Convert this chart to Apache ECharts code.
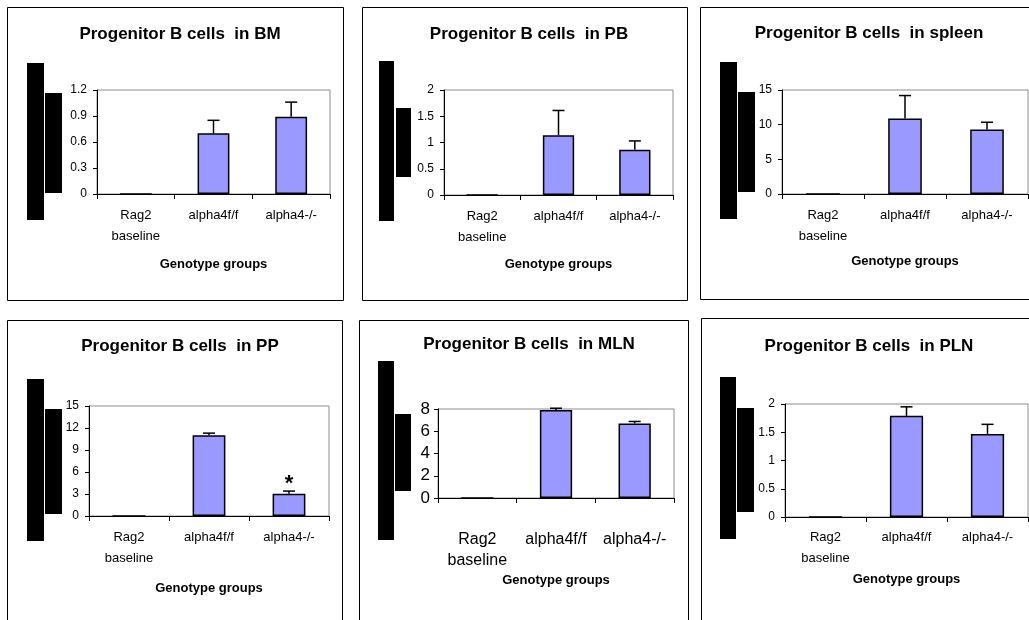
<!DOCTYPE html>
<html><head><meta charset="utf-8">
<script src="https://cdn.jsdelivr.net/npm/echarts@6/dist/echarts.min.js"></script>
<style>html,body{margin:0;padding:0;background:#fff}#c{width:1029px;height:620px}</style>
</head><body><div id="c"></div>
<script>
// ---------- data ----------
const categories = ['Rag2\nbaseline', 'alpha4f/f', 'alpha4-/-'];
const panelTitles = [
  'Progenitor B cells  in BM',
  'Progenitor B cells  in PB',
  'Progenitor B cells  in spleen',
  'Progenitor B cells  in PP',
  'Progenitor B cells  in MLN',
  'Progenitor B cells  in PLN'
];
const xAxisTitle = 'Genotype groups';

const bmMean = [0, 0.70, 0.89];
const bmErr = [0, 0.15, 0.17];
const pbMean = [0, 1.14, 0.86];
const pbErr = [0, 0.47, 0.17];
const spleenMean = [0, 10.9, 9.3];
const spleenErr = [0, 3.3, 1.05];
const ppMean = [0, 11.0, 3.05];
const ppErr = [0, 0.3, 0.35];
const mlnMean = [0, 7.9, 6.7];
const mlnErr = [0, 0.17, 0.18];
const plnMean = [0, 1.79, 1.47];
const plnErr = [0, 0.16, 0.17];

const ppMarks = ['', '', '*'];
const noMarks = ['', '', ''];

const yMax = [1.2, 2, 15, 15, 8, 2];
const yInterval = [0.3, 0.5, 5, 3, 2, 0.5];

const means = [bmMean, pbMean, spleenMean, ppMean, mlnMean, plnMean];
const errs = [bmErr, pbErr, spleenErr, ppErr, mlnErr, plnErr];
const marks = [noMarks, noMarks, noMarks, ppMarks, noMarks, noMarks];

// ---------- layout ----------
const layout = [
  {box:[7,7,336,293], grid:[97,90,233,104], titleY:21, cx:175, bars:[[27,63,17,157],[45,93,17,100]], catFont:13, yFont:12, catMargin:11, catLH:21, nameGap:64},
  {box:[362,7,325,293], grid:[444,90,229,105], titleY:21, cx:524, bars:[[379,61,15,160],[396,108,15,69]], catFont:13, yFont:12, catMargin:11, catLH:21, nameGap:63},
  {box:[700,7,340,292], grid:[782,90,246,104], titleY:20, cx:864, bars:[[720,62,17,157],[738,92,17,100]], catFont:13, yFont:12, catMargin:11, catLH:21, nameGap:61},
  {box:[7,320,335,310], grid:[89,406,240,110], titleY:333, cx:175, bars:[[27,379,17,162],[45,409,17,105]], catFont:13, yFont:12, catMargin:11, catLH:21, nameGap:66},
  {box:[359,320,329,310], grid:[438,409,236,89], titleY:331, cx:524, bars:[[378,361,16,179],[395,414,16,77]], catFont:16, yFont:17, catMargin:31, catLH:21, nameGap:76},
  {box:[701,318,340,310], grid:[785,404,243,113], titleY:333, cx:864, bars:[[720,377,16,162],[737,408,17,104]], catFont:13, yFont:12, catMargin:10, catLH:21, nameGap:56}
];

const FONT = '"Liberation Sans", Arial, sans-serif';
const NARROW = '"Liberation Sans Narrow", "Liberation Sans", Arial, sans-serif';

const chart = echarts.init(document.getElementById('c'), null, {renderer:'canvas'});

const titles = [], grids = [], xAxes = [], yAxes = [], series = [], graphics = [];

layout.forEach((L, i) => {
  titles.push({
    text: panelTitles[i], left: L.cx, top: L.titleY, textAlign: 'center',
    textStyle: {fontFamily: FONT, fontSize: 17, fontWeight: 'bold', color: '#000'}
  });
  grids.push({
    left: L.grid[0], top: L.grid[1], width: L.grid[2], height: L.grid[3],
    show: true, borderColor: '#8c8c8c', borderWidth: 1, backgroundColor: 'transparent'
  });
  xAxes.push({
    type: 'category', gridIndex: i, data: categories,
    axisLine: {lineStyle: {color: '#000', width: 1}},
    axisTick: {show: true, length: 5, lineStyle: {color: '#000'}},
    axisLabel: {fontFamily: FONT, fontSize: L.catFont, color: '#000', margin: L.catMargin, lineHeight: L.catLH, interval: 0},
    name: xAxisTitle, nameLocation: 'middle', nameGap: L.nameGap,
    nameTextStyle: {fontFamily: FONT, fontSize: 13, fontWeight: 'bold', color: '#000'}
  });
  yAxes.push({
    type: 'value', gridIndex: i, min: 0, max: yMax[i], interval: yInterval[i],
    axisLine: {show: true, lineStyle: {color: '#000', width: 1}},
    axisTick: {show: true, length: 4, lineStyle: {color: '#000'}},
    splitLine: {show: false},
    axisLabel: {fontFamily: i === 4 ? FONT : NARROW, fontSize: L.yFont, color: '#000', margin: i === 4 ? 8 : 10}
  });
  series.push({
    type: 'bar', xAxisIndex: i, yAxisIndex: i, data: means[i], barWidth: '41%',
    itemStyle: {color: '#9999ff', borderColor: '#000', borderWidth: 1.5},
    emphasis: {disabled: true}, silent: true, animation: false
  });
  const mk = marks[i];
  series.push({
    type: 'custom', xAxisIndex: i, yAxisIndex: i, z: 5, silent: true, animation: false, clip: false,
    data: means[i].map((m, k) => [k, m, errs[i][k]]),
    renderItem: function (params, api) {
      const k = api.value(0), m = api.value(1), e = api.value(2);
      const base = api.coord([k, m]);
      const top = api.coord([k, m + e]);
      const children = [];
      if (e > 0) {
        children.push({type: 'line', shape: {x1: base[0], y1: base[1], x2: top[0], y2: top[1]}, style: {stroke: '#000', lineWidth: 1.5}});
        children.push({type: 'line', shape: {x1: top[0] - 6, y1: top[1], x2: top[0] + 6, y2: top[1]}, style: {stroke: '#000', lineWidth: 1.5}});
      }
      if (mk[params.dataIndex]) {
        children.push({type: 'text', style: {text: mk[params.dataIndex], x: top[0], y: top[1] + 4, align: 'center', verticalAlign: 'bottom', font: 'bold 22px ' + FONT, fill: '#000'}});
      }
      return {type: 'group', children: children};
    }
  });
  graphics.push({type: 'rect', shape: {x: L.box[0] + 0.5, y: L.box[1] + 0.5, width: L.box[2], height: L.box[3]}, style: {fill: null, stroke: '#000', lineWidth: 1}, silent: true});
  L.bars.forEach(b => graphics.push({type: 'rect', shape: {x: b[0], y: b[1], width: b[2], height: b[3]}, style: {fill: '#000'}, silent: true}));
});

chart.setOption({
  animation: false,
  backgroundColor: '#fff',
  title: titles, grid: grids, xAxis: xAxes, yAxis: yAxes, series: series,
  graphic: {elements: graphics}
});
</script></body></html>
